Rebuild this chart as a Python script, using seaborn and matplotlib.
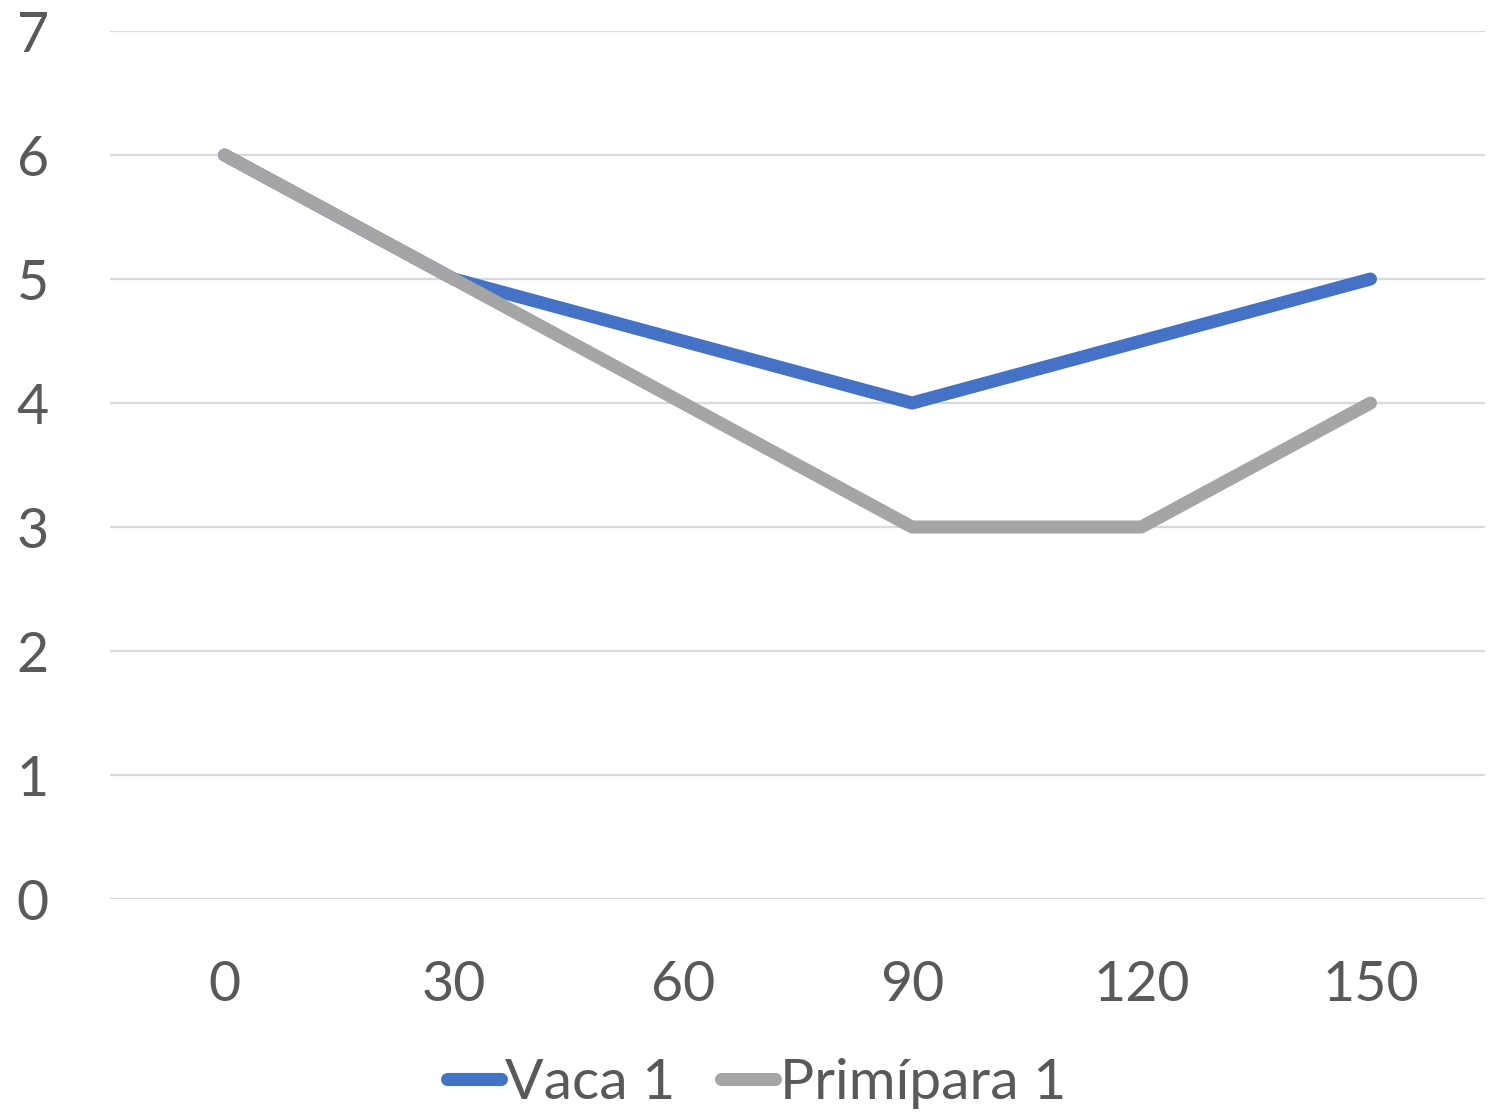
import matplotlib
matplotlib.use("Agg")
import matplotlib.pyplot as plt
import seaborn as sns
import pandas as pd
from matplotlib.lines import Line2D

categories = ["0", "30", "60", "90", "120", "150"]
vaca = [6, 5, 4.5, 4, 4.5, 5]
primipara = [6, 5, 4, 3, 3, 4]
series_names = ["Vaca 1", "Primípara 1"]
colors = ["#4472C4", "#A5A5A5"]

sns.set_theme(style="white")
plt.rcParams['font.family'] = ['Lato', 'DejaVu Sans']

rows = []
for name, vals in zip(series_names, [vaca, primipara]):
    for i, v in enumerate(vals):
        rows.append({"pos": i, "value": v, "serie": name})
df = pd.DataFrame(rows)

fig = plt.figure(figsize=(15.04, 11.12), dpi=100)
ax = fig.add_axes([0.0731, 0.1915, 0.9874 - 0.0731, 0.9721 - 0.1915])

sns.lineplot(data=df, x="pos", y="value", hue="serie", palette=colors,
             linewidth=9.4, ax=ax, legend=False, sort=False)
for ln in ax.get_lines():
    ln.set_solid_capstyle("round")
    ln.set_solid_joinstyle("round")

ax.set_xlim(-0.5, len(categories) - 0.5)
ax.set_ylim(0, 7)
ax.set_xticks(range(len(categories)))
ax.set_xticklabels(categories)
ax.set_yticks(range(0, 8))
ax.yaxis.grid(True, color="#D9D9D9", linewidth=1.6)
ax.set_axisbelow(True)
for s in ax.spines.values():
    s.set_visible(False)
ax.tick_params(axis="both", length=0, labelsize=40, labelcolor="#595959")
ax.tick_params(axis="y", pad=44)
ax.tick_params(axis="x", pad=44)
ax.set_xlabel("")
ax.set_ylabel("")

handles = [Line2D([0], [0], color=c, linewidth=9.4, solid_capstyle="round") for c in colors]
fig.legend(handles, series_names, loc="center", bbox_to_anchor=(0.503, 0.026),
           ncol=2, frameon=False, fontsize=41, labelcolor="#595959",
           handlelength=0.95, handletextpad=0.08, columnspacing=0.8)

fig.savefig("out.png", dpi=100, facecolor="white")
